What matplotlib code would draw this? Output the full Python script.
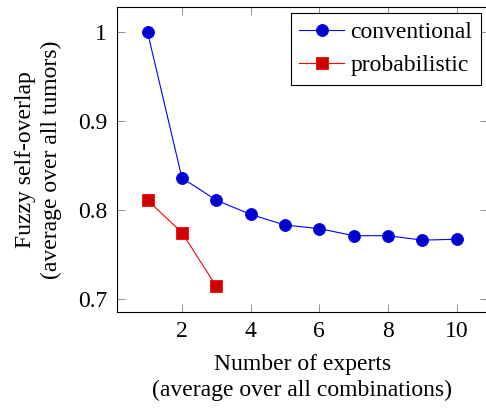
import numpy as np
import matplotlib
matplotlib.use('Agg')
import matplotlib.pyplot as plt

# data
experts = [1, 2, 3, 4, 5, 6, 7, 8, 9, 10]
conventional = [1.0, 0.836, 0.811, 0.795, 0.783, 0.779, 0.771, 0.771, 0.766, 0.767]
experts_prob = [1, 2, 3]
probabilistic = [0.811, 0.7745, 0.714]

plt.rcParams['font.family'] = ['Liberation Serif', 'DejaVu Serif']
plt.rcParams['mathtext.fontset'] = 'stix'

fig = plt.figure(figsize=(4.86, 4.09), dpi=100)
ax = fig.add_axes([0.2401, 0.2379, 0.7632, 0.745])

ax.plot(experts, conventional, color='blue', lw=0.8, marker='o', ms=8.6,
        mfc=(0, 0, 0.8), mec='blue', mew=0.6, label='conventional')
ax.plot(experts_prob, probabilistic, color='red', lw=0.8, marker='s', ms=8.0,
        mfc=(0.8, 0, 0), mec='red', mew=0.6, label='probabilistic')

ax.set_xlim(0.1, 10.9)
ax.set_ylim(0.6854, 1.0286)
ax.set_xticks([2, 4, 6, 8, 10])
ax.set_yticks([0.7, 0.8, 0.9, 1.0])
ax.set_yticklabels(['0.7', '0.8', '0.9', '1'])

ax.tick_params(direction='in', length=6, width=0.6, color='0.5',
               top=True, right=True, labelsize=17, pad=7)
for s in ax.spines.values():
    s.set_linewidth(0.8)

ax.set_xlabel('Number of experts\n(average over all combinations)', fontsize=17,
              labelpad=8, linespacing=1.3)
ax.set_ylabel('Fuzzy self-overlap\n(average over all tumors)', fontsize=17,
              labelpad=11, linespacing=1.3)

leg = ax.legend(loc='upper right', bbox_to_anchor=(0.982, 0.979), borderaxespad=0,
                fontsize=17, fancybox=False, framealpha=1, edgecolor='black',
                handlelength=1.9, handletextpad=0.27, labelspacing=0.48,
                borderpad=0.36)
leg.get_frame().set_linewidth(0.8)

plt.savefig('out.png', dpi=100)
